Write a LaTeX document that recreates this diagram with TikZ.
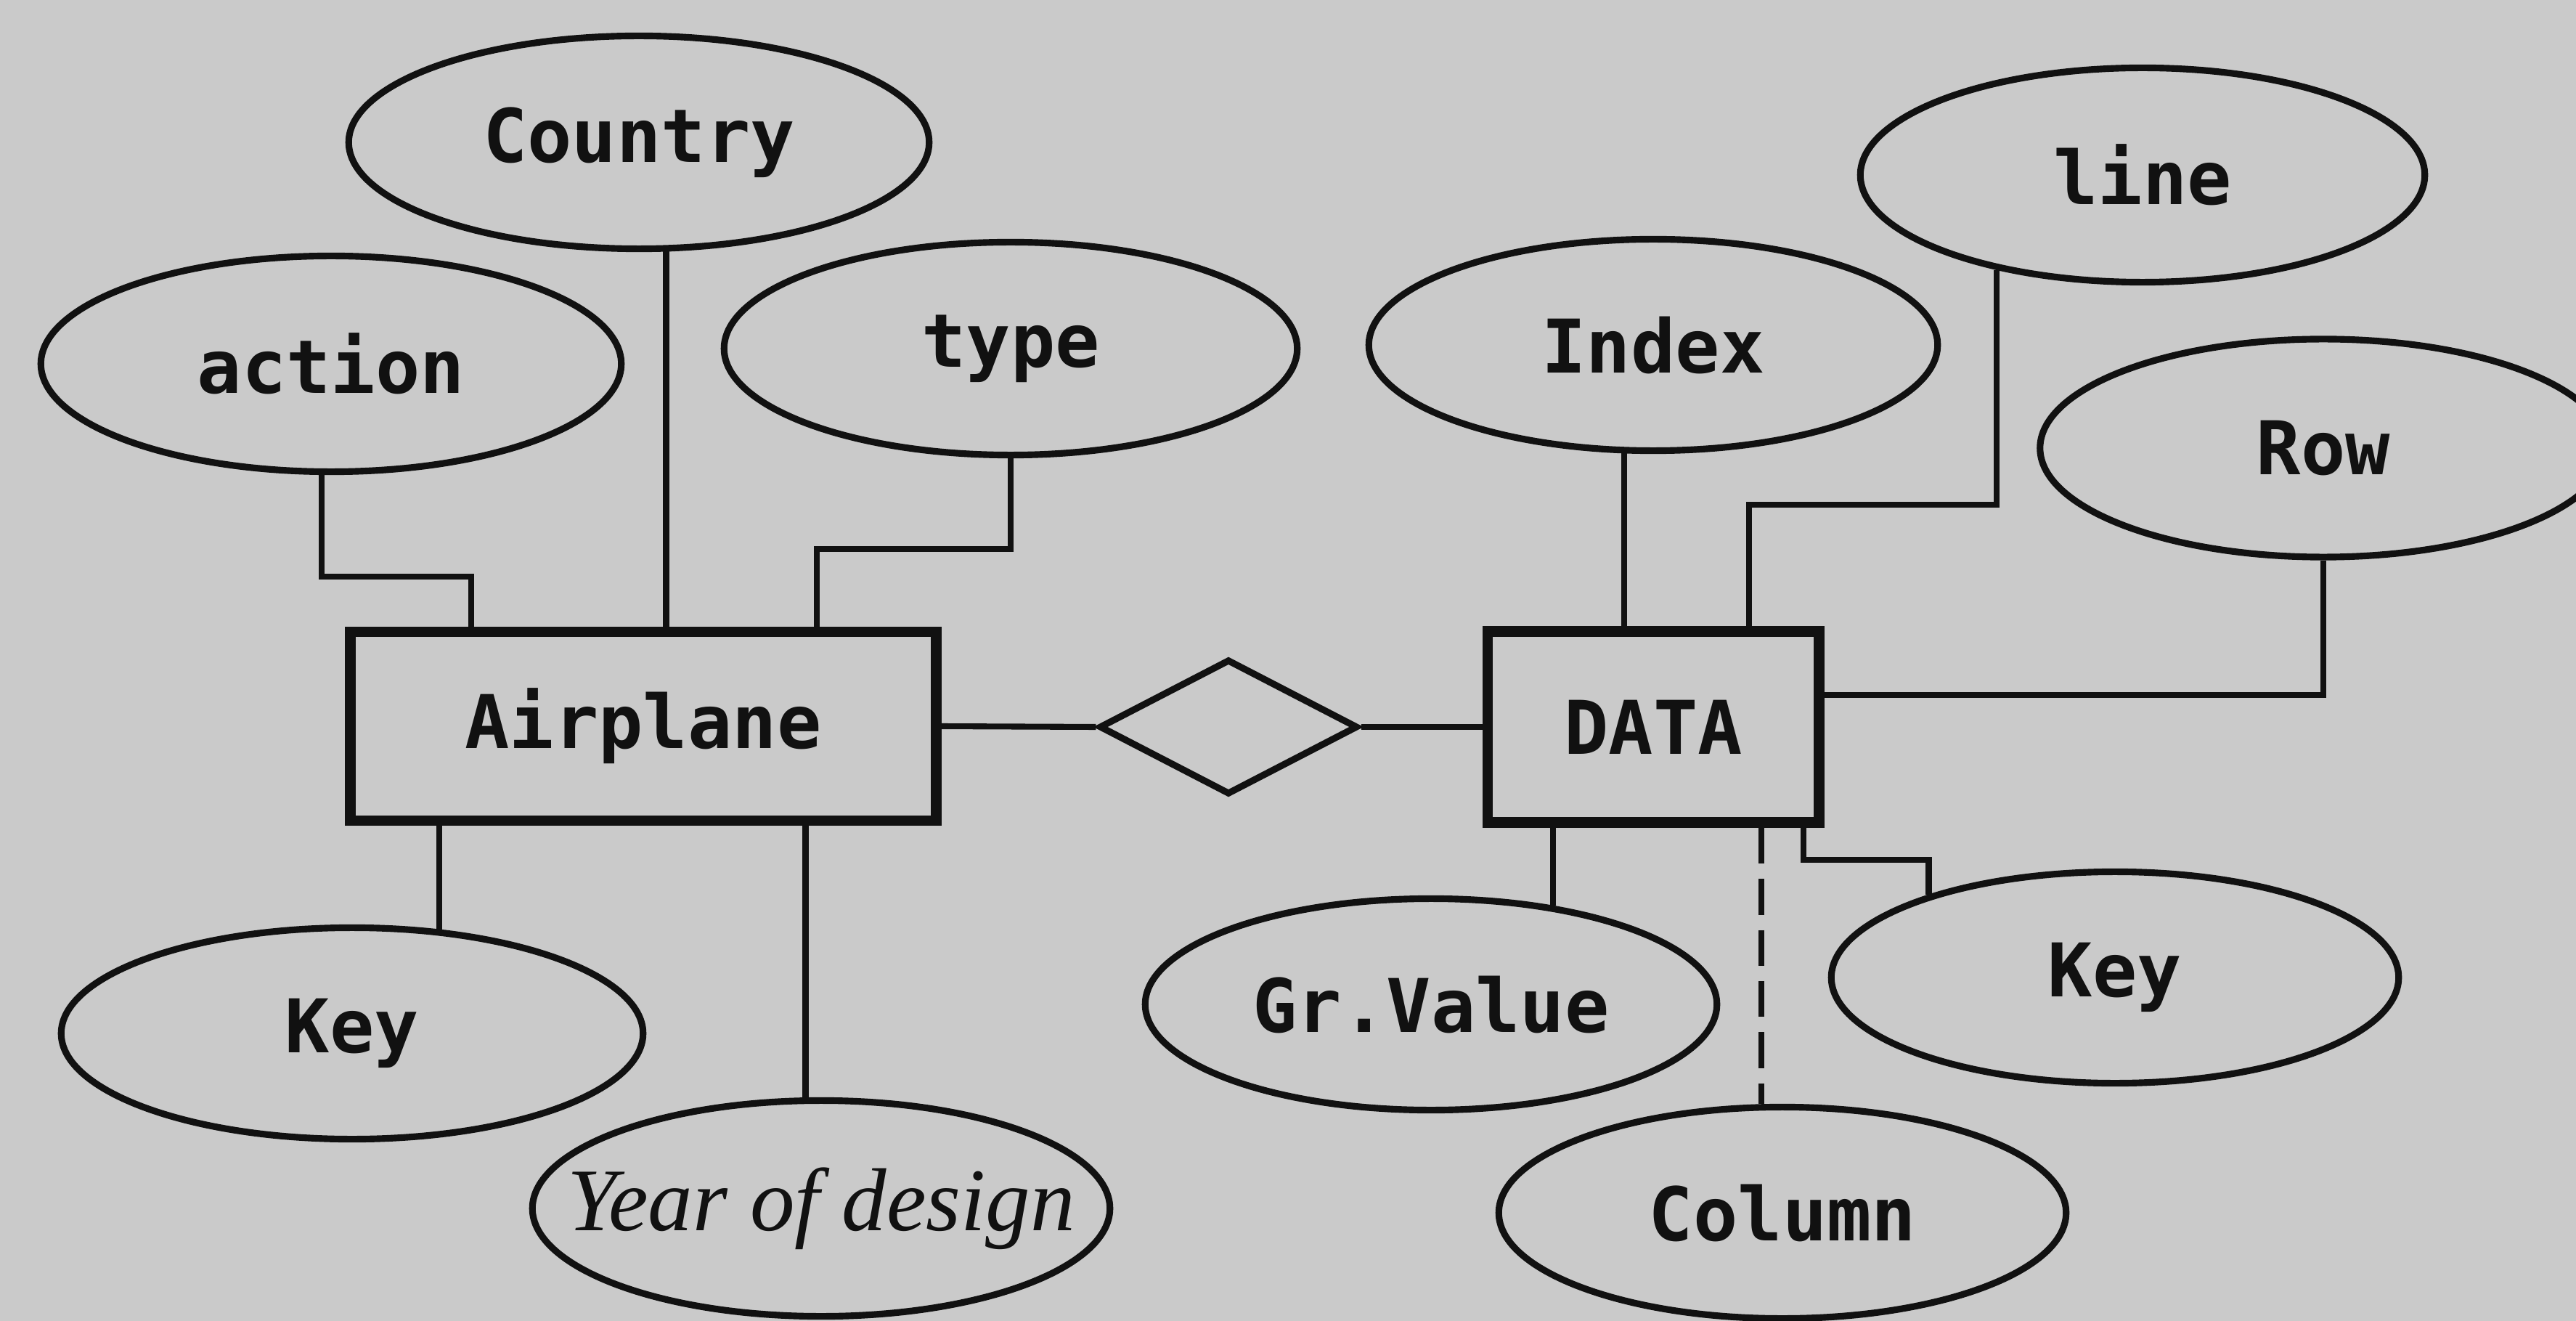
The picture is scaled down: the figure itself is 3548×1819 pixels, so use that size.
\documentclass[tikz,border=0pt]{standalone}
\usepackage{fontspec}
\usetikzlibrary{shapes.geometric,calc}
\newfontfamily\erfont{DejaVu Sans Mono}
\newfontfamily\erital{Liberation Serif}
\definecolor{bgc}{RGB}{202,202,202}
\definecolor{ink}{RGB}{17,17,17}
\begin{document}
\begin{tikzpicture}[x=0.01cm,y=-0.01cm,
  attr/.style={ellipse,draw=ink,line width=2.6pt,inner sep=0pt,minimum width=7.9cm,minimum height=2.93cm,text=ink,font=\erfont\bfseries\fontsize{29pt}{34pt}\selectfont},
  ent/.style={rectangle,draw=ink,line width=4.2pt,inner sep=0pt,text=ink,font=\erfont\bfseries\fontsize{29pt}{34pt}\selectfont},
  relship/.style={diamond,draw=ink,line width=2.6pt,inner sep=0pt,minimum width=3.56cm,minimum height=1.86cm},
  conn/.style={draw=ink,line width=2.3pt},
  dconn/.style={conn,dash pattern=on 14pt off 6pt}
]
\useasboundingbox (0,0) rectangle (3548,1819);
\fill[bgc] (0,0) rectangle (3548,1819);
\clip (0,0) rectangle (3548,1819);

% entities and relationship
\node[ent,minimum width=8.06cm,minimum height=2.6cm] (air) at (886,1000) {Airplane};
\node[ent,minimum width=4.56cm,minimum height=2.63cm] (data) at (2277,1001) {DATA};
\node[relship] (rel) at (1692,1001) {};

% attributes of Airplane
\node[attr,minimum width=7.99cm] (country) at (880,196) {Country};
\node[attr,minimum width=7.99cm,minimum height=2.97cm] (action) at (456,501) {action};
\node[attr,minimum width=7.89cm] (type) at (1392,480) {type};
\node[attr,minimum width=8.01cm,minimum height=2.91cm] (key1) at (485,1423) {Key};
\node[attr,minimum width=7.95cm,minimum height=2.97cm,font=\erital\itshape\fontsize{35pt}{40pt}\selectfont] (year) at (1131,1664) {\makebox[0pt]{Year of design}};

% attributes of DATA
\node[attr,minimum width=7.83cm,minimum height=2.91cm] (index) at (2277,475) {Index};
\node[attr,minimum width=7.77cm,minimum height=2.95cm] (line) at (2951,241) {line};
\node[attr,minimum width=7.8cm,minimum height=3.0cm] (row) at (3200,617) {Row};
\node[attr,minimum width=7.87cm,minimum height=2.91cm] (gr) at (1971,1383) {Gr.Value};
\node[attr,minimum width=7.81cm,minimum height=2.91cm] (key2) at (2913,1346) {Key};
\node[attr,minimum width=7.81cm,minimum height=2.91cm] (col) at (2455,1670) {Column};

% helper bend points
\coordinate (a1) at (649,794);
\coordinate (t1) at (1125,756);
\coordinate (l1) at (2409,695);
\coordinate (k2) at (2484,1184);

% connectors of Airplane
\draw[conn] (action.265) |- (a1) -- (a1 |- air.north);
\draw[conn] (country.284) -- (country.284 |- air.north);
\draw[conn] (type.south) |- (t1) -- (t1 |- air.north);
\draw[conn] (key1.50 |- air.south) -- (key1.50);
\draw[conn] (year.98 |- air.south) -- (year.98);

% relationship
\draw[conn] (air.east) -- (rel.west);
\draw[conn] (rel.east) -- (data.west);

% connectors of DATA
\draw[conn] (index.255) -- (index.255 |- data.north);
\draw[conn] (line.213) |- (l1) -- (l1 |- data.north);
\draw[conn] (row.south) |- ($(data.east)+(0,-44)$);
\draw[conn] (gr.39 |- data.south) -- (gr.39);
\draw[dconn] (col.101 |- data.south) -- (col.101);
\draw[conn] (k2 |- data.south) -- (k2) -| (key2.156);
\end{tikzpicture}
\end{document}
